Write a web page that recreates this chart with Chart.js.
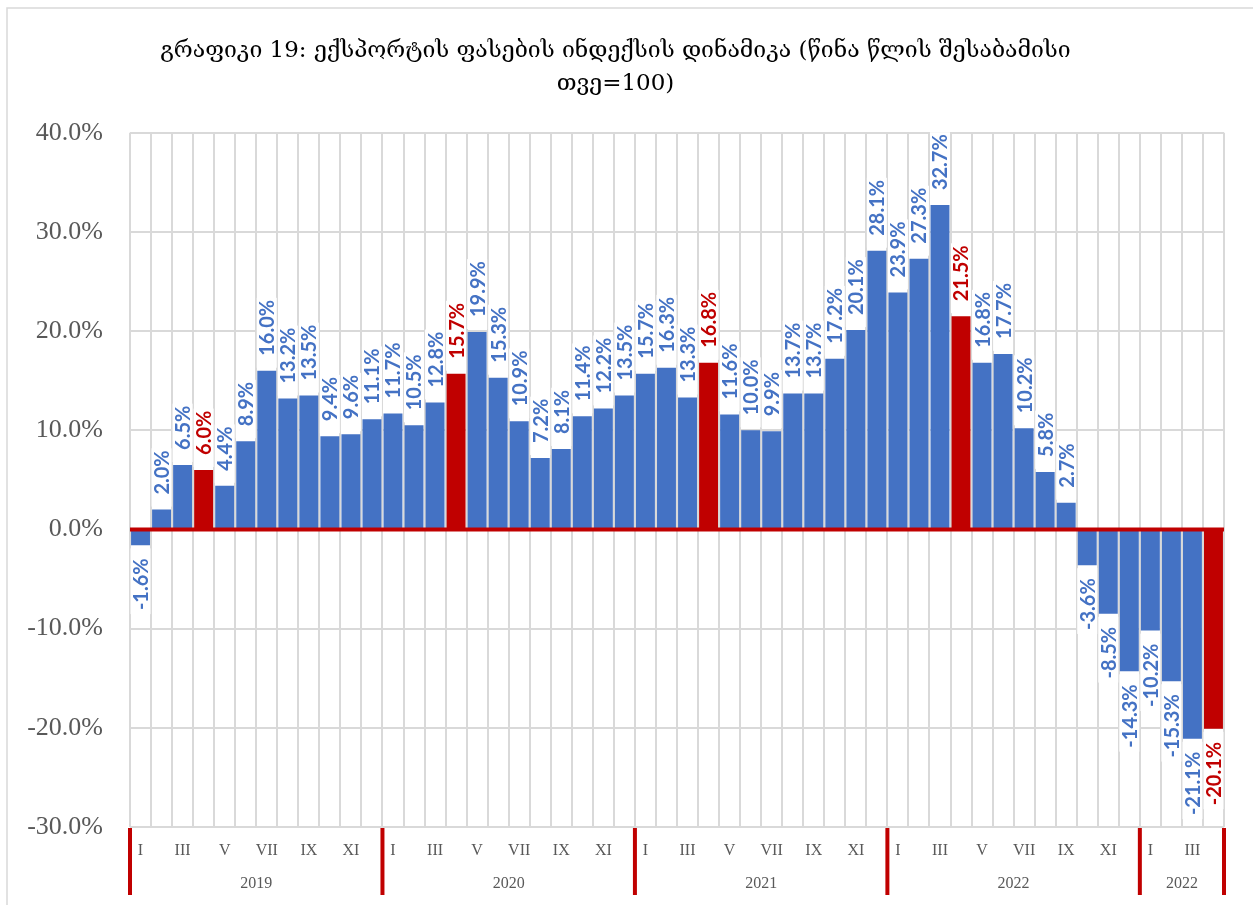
<!DOCTYPE html>
<html>
<head>
<meta charset="utf-8">
<script src="https://cdn.jsdelivr.net/npm/chart.js@4/dist/chart.umd.min.js"></script>
<style>
  html, body { margin: 0; padding: 0; background: #fff; }
  #wrap { width: 1253px; height: 905px; }
</style>
</head>
<body>
<div id="wrap"><canvas id="myChart" width="1253" height="905"></canvas></div>
<script>
// monthly values, % change vs same month of previous year
var months = ["I","II","III","IV","V","VI","VII","VIII","IX","X","XI","XII",
              "I","II","III","IV","V","VI","VII","VIII","IX","X","XI","XII",
              "I","II","III","IV","V","VI","VII","VIII","IX","X","XI","XII",
              "I","II","III","IV","V","VI","VII","VIII","IX","X","XI","XII",
              "I","II","III","IV"];
var values = [-1.6, 2.0, 6.5, 6.0, 4.4, 8.9, 16.0, 13.2, 13.5, 9.4, 9.6, 11.1,
              11.7, 10.5, 12.8, 15.7, 19.9, 15.3, 10.9, 7.2, 8.1, 11.4, 12.2, 13.5,
              15.7, 16.3, 13.3, 16.8, 11.6, 10.0, 9.9, 13.7, 13.7, 17.2, 20.1, 28.1,
              23.9, 27.3, 32.7, 21.5, 16.8, 17.7, 10.2, 5.8, 2.7, -3.6, -8.5, -14.3,
              -10.2, -15.3, -21.1, -20.1];
var years = ["2019", "2020", "2021", "2022", "2022"];
var yearStart = [0, 12, 24, 36, 48];
var yearEnd = [11, 23, 35, 47, 51];
var titleLines = ["გრაფიკი 19: ექსპორტის ფასების ინდექსის დინამიკა (წინა წლის შესაბამისი", "თვე=100)"];

var BLUE = "#4472C4";
var RED = "#C00000";
// April bars are highlighted red
var barColors = values.map(function(v, i) { return (months[i] == "IV") ? RED : BLUE; });

var labelPlugin = {
  id: "extras",
  beforeDraw: function(chart) {
    var ctx = chart.ctx;
    ctx.save();
    ctx.strokeStyle = "#d9d9d9";
    ctx.lineWidth = 1.5;
    ctx.beginPath();
    ctx.moveTo(7, 905);
    ctx.lineTo(7, 8);
    ctx.lineTo(1253, 8);
    ctx.stroke();
    ctx.restore();
  },
  afterDatasetsDraw: function(chart) {
    var ctx = chart.ctx;
    var ys = chart.scales.y;
    var area = chart.chartArea;
    var z = ys.getPixelForValue(0);
    ctx.save();
    // zero line
    ctx.strokeStyle = RED;
    ctx.lineWidth = 4;
    ctx.beginPath();
    ctx.moveTo(area.left, z);
    ctx.lineTo(area.right, z);
    ctx.stroke();

    // rotated value labels
    ctx.font = "bold 20px Lato";
    ctx.textBaseline = "middle";
    var meta = chart.getDatasetMeta(0);
    meta.data.forEach(function(bar, i) {
      var v = values[i];
      var txt = v.toFixed(1) + "%";
      var w = ctx.measureText(txt).width;
      var gap = 15;
      ctx.save();
      ctx.translate(bar.x, bar.y);
      ctx.rotate(-Math.PI / 2);
      ctx.fillStyle = "#fff";
      if (v >= 0) {
        ctx.fillRect(3, -10, gap + w - 1, 20);
        ctx.fillStyle = barColors[i];
        ctx.textAlign = "left";
        ctx.fillText(txt, gap, 1);
      } else {
        ctx.fillRect(-gap - w - 2, -10, gap + w - 1, 20);
        ctx.fillStyle = barColors[i];
        ctx.textAlign = "right";
        ctx.fillText(txt, -gap + 2, 1);
      }
      ctx.restore();
    });
    ctx.restore();
  },
  afterDraw: function(chart) {
    var ctx = chart.ctx;
    var xs = chart.scales.x;
    var area = chart.chartArea;
    var cw = (area.right - area.left) / months.length;
    ctx.save();
    ctx.strokeStyle = RED;
    ctx.lineWidth = 4;
    ctx.fillStyle = "#595959";
    ctx.font = "16px 'Liberation Serif'";
    ctx.textAlign = "center";
    ctx.textBaseline = "middle";
    for (var k = 0; k < years.length; k++) {
      var l = xs.getPixelForValue(yearStart[k]) - cw / 2;
      var r = xs.getPixelForValue(yearEnd[k]) + cw / 2;
      ctx.beginPath();
      ctx.moveTo(l, area.bottom + 1);
      ctx.lineTo(l, 895);
      ctx.stroke();
      if (k == years.length - 1) {
        ctx.beginPath();
        ctx.moveTo(r, area.bottom + 1);
        ctx.lineTo(r, 895);
        ctx.stroke();
      }
      ctx.fillText(years[k], (l + r) / 2, 884);
    }
    ctx.restore();
  }
};

const myChart = new Chart("myChart", {
  type: "bar",
  data: {
    labels: months,
    datasets: [{
      data: values,
      backgroundColor: barColors,
      borderWidth: 0,
      barPercentage: 1.0,
      categoryPercentage: 0.9
    }]
  },
  options: {
    animation: false,
    responsive: false,
    layout: { padding: { left: 7, right: 29, top: 0, bottom: 0 } },
    plugins: {
      legend: { display: false },
      tooltip: { enabled: false },
      title: {
        display: true,
        text: titleLines,
        color: "#000",
        font: { family: "'DejaVu Serif', 'DejaVu Sans', serif", size: 23, weight: "normal", lineHeight: 1.45 },
        padding: { top: 34, bottom: 32 }
      }
    },
    scales: {
      x: {
        grid: { color: "#d9d9d9", lineWidth: 2, offset: true, drawTicks: false },
        border: { display: false },
        ticks: {
          autoSkip: false,
          maxRotation: 0,
          padding: 14,
          color: "#595959",
          font: { family: "'Liberation Serif'", size: 16 },
          callback: function(val, idx) { return idx % 2 == 0 ? months[idx] : ""; }
        },
        afterFit: function(scale) { scale.height = 78; }
      },
      y: {
        min: -30,
        max: 40,
        grid: { color: "#d9d9d9", lineWidth: 2, drawTicks: false },
        border: { display: false },
        ticks: {
          stepSize: 10,
          padding: 27,
          color: "#595959",
          font: { family: "'Liberation Serif'", size: 26 },
          callback: function(v) { return v.toFixed(1) + "%"; }
        },
        afterFit: function(scale) { scale.width = 123; }
      }
    }
  },
  plugins: [labelPlugin]
});
</script>
</body>
</html>
